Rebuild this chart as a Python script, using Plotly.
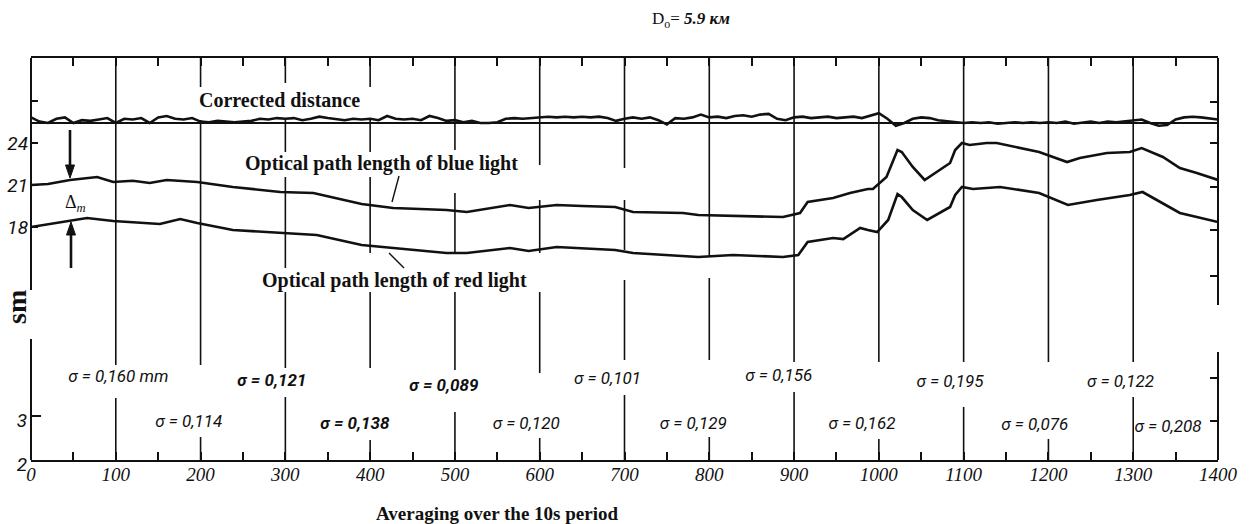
import plotly.graph_objects as go

# ---------------- data ----------------
x_tick_vals = list(range(0, 1401, 100))
x_tick_text = [str(v) for v in x_tick_vals]
x_minor_ticks = list(range(50, 1400, 100))
upper_tick_vals = [18, 21, 24]
upper_tick_text = ["18", "21", "24"]
upper_minor_ticks = [27]
upper_right_ticks = [14.5, 17.8, 20.85, 24, 26.95]
lower_tick_vals = [2, 3]
lower_tick_text = ["2", "3"]
lower_right_ticks = [2.89, 3.86]

# optical path length of blue light (sm)
blue_x = [0, 20, 46, 78, 97, 120, 140, 160, 196, 238, 294, 333, 390, 427, 459,
          490, 514, 565, 587, 620, 650, 689, 710, 769, 787, 848, 887, 907, 916, 946,
          966, 987, 993, 1009, 1016, 1022, 1027, 1040, 1054, 1072, 1084, 1090, 1098,
          1107, 1127, 1139, 1189, 1222, 1237, 1269, 1296, 1310, 1335, 1355, 1375, 1400]
blue_y = [21.0, 21.07, 21.36, 21.57, 21.21, 21.3, 21.14, 21.36, 21.21, 20.86, 20.5, 20.43, 19.64, 19.36, 19.29,
          19.21, 19.07, 19.57, 19.36, 19.57, 19.5, 19.43, 19.07, 19.0, 18.86, 18.79, 18.71, 19.0, 19.79, 20.07,
          20.43, 20.71, 20.71, 21.57, 22.6, 23.5, 23.36, 22.29, 21.36, 22.07, 22.57, 23.5, 24.0,
          23.86, 24.0, 24.0, 23.36, 22.64, 22.93, 23.29, 23.36, 23.64, 23.0, 22.21, 21.86, 21.36]

# optical path length of red light (sm)
red_x = [0, 46, 66, 97, 152, 176, 196, 238, 294, 337, 390, 427, 459, 490, 514,
         565, 587, 620, 689, 710, 787, 828, 887, 905, 916, 946, 958, 978, 987, 998,
         1011, 1022, 1027, 1040, 1057, 1072, 1084, 1090, 1098, 1111, 1143, 1189, 1223, 1257, 1296,
         1311, 1355, 1375, 1400]
red_y = [18.0, 18.43, 18.64, 18.43, 18.21, 18.57, 18.29, 17.79, 17.57, 17.43, 16.71, 16.5, 16.29, 16.14, 16.14,
         16.5, 16.29, 16.57, 16.36, 16.14, 15.86, 16.0, 15.86, 16.0, 16.93, 17.21, 17.14, 17.93, 17.79, 17.64,
         18.5, 20.36, 20.14, 19.21, 18.5, 19.0, 19.43, 20.29, 20.86, 20.71, 20.86, 20.43, 19.57, 19.93, 20.29,
         20.5, 19.0, 18.71, 18.36]

# corrected distance: baseline and deviation every 10 s-steps
corr_base = 25.43
corr_x = list(range(0, 1401, 10))
corr_dev = [
    0.4, 0.1, 0.0, 0.3, 0.4, 0.0, 0.2, 0.15, 0.25, 0.35,
    0.0, 0.3, 0.25, 0.35, 0.0, 0.4, 0.5, 0.3, 0.25, 0.35,
    0.1, 0.05, 0.15, 0.1, 0.05, 0.1, 0.15, 0.3, 0.25, 0.35,
    0.3, 0.35, 0.2, 0.3, 0.45, 0.35, 0.25, 0.2, 0.3, 0.25,
    0.3, 0.2, 0.5, 0.3, 0.25, 0.3, 0.2, 0.5, 0.35, 0.15,
    0.2, 0.05, 0.15, 0.0, 0.0, 0.05, 0.3, 0.35, 0.3, 0.35,
    0.4, 0.45, 0.4, 0.45, 0.4, 0.45, 0.4, 0.45, 0.35, 0.15,
    0.3, 0.4, 0.3, 0.4, 0.2, -0.1, 0.35, 0.3, 0.4, 0.6,
    0.4, 0.45, 0.35, 0.5, 0.55, 0.45, 0.6, 0.65, 0.3, 0.2,
    0.4, 0.45, 0.35, 0.4, 0.45, 0.35, 0.4, 0.45, 0.35, 0.5,
    0.7, 0.3, -0.2, 0.0, 0.3, 0.4, 0.35, 0.2, 0.15, 0.05,
    0.0, 0.05, 0.0, 0.05, -0.05, 0.0, 0.05, 0.0, 0.05, 0.0,
    0.05, 0.0, 0.1, -0.05, 0.05, 0.1, 0.0, 0.1, 0.05, 0.1,
    0.2, 0.25, 0.0, -0.2, -0.15, 0.25, 0.4, 0.45, 0.4, 0.35,
    0.25,
]
corr_y = [corr_base + d for d in corr_dev]

# standard deviations per interval
sigma_text = ["0,160 mm", "0,114", "0,121", "0,138", "0,089", "0,120", "0,101",
              "0,129", "0,156", "0,162", "0,195", "0,076", "0,122", "0,208"]
sigma_bold = [False, False, True, True, True, False, False,
              False, False, False, False, False, False, False]
sigma_x = [103, 186, 284, 382, 487, 584, 680, 781, 882, 980, 1084, 1184, 1285, 1341]
sigma_y = [3.86, 2.84, 3.77, 2.8, 3.66, 2.8, 3.82, 2.8, 3.89, 2.8, 3.75, 2.77, 3.75, 2.73]

grid_x = list(range(100, 1400, 100))

# ---------------- layout calibration (pixels) ----------------
W, H = 1250, 524
L, R, T, B = 31, 1218, 58, 460
UP_REF_VAL, UP_REF_PX, UP_PX_PER_UNIT = 24, 143, 14.0
LOW_PX_PER_UNIT = 44.0
upper_range = [UP_REF_VAL - (B - UP_REF_PX) / UP_PX_PER_UNIT,
               UP_REF_VAL + (UP_REF_PX - T) / UP_PX_PER_UNIT]
lower_range = [2, 2 + (B - T) / LOW_PX_PER_UNIT]
X_PER_PX = 1400 / (R - L)


def pyp(py):
    return (B - py) / (B - T)


def pxp(px):
    return (px - L) / (R - L)


def px2x(px):
    return (px - L) * X_PER_PX


def py2up(py):
    return UP_REF_VAL - (py - UP_REF_PX) / UP_PX_PER_UNIT


grid_gaps_px = {
    100: [(365, 398)],
    200: [(87, 120), (365, 437)],
    300: [(83, 119), (152, 177), (268, 292), (368, 397)],
    400: [(87, 119), (152, 177), (253, 292), (368, 440)],
    500: [(150, 193), (253, 292), (370, 412)],
    600: [(165, 200), (253, 292), (373, 438)],
    700: [(168, 200), (250, 280), (360, 395)],
    800: [(257, 278), (360, 437)],
    900: [(362, 392)],
    1000: [(362, 439)],
    1100: [(362, 407)],
    1200: [(362, 439)],
    1300: [(362, 397)],
}

INK = "#111111"
SERIF = "Liberation Serif, Times New Roman, serif"
HAND = "Liberation Sans Narrow, Roboto, Arial, sans-serif"

fig = go.Figure()

line_style = dict(color=INK, width=2.6)
fig.add_trace(go.Scatter(x=[0, 1400], y=[corr_base, corr_base], mode="lines",
                         line=dict(color=INK, width=1.8), hoverinfo="skip"))
fig.add_trace(go.Scatter(x=corr_x, y=corr_y, mode="lines", line=line_style, hoverinfo="skip"))
fig.add_trace(go.Scatter(x=blue_x, y=blue_y, mode="lines", line=line_style, hoverinfo="skip"))
fig.add_trace(go.Scatter(x=red_x, y=red_y, mode="lines", line=line_style, hoverinfo="skip"))

sig_labels = [("<b>σ = %s</b>" % t) if b else ("σ = %s" % t) for t, b in zip(sigma_text, sigma_bold)]
fig.add_trace(go.Scatter(x=sigma_x, y=sigma_y, yaxis="y3", mode="text", text=sig_labels,
                         textposition="middle center",
                         textfont=dict(family=HAND, size=17, color=INK, style="italic"),
                         hoverinfo="skip"))
# right-hand tick scales (upper and lower parts of the broken axis)
fig.add_trace(go.Scatter(x=[1400] * len(upper_right_ticks), y=upper_right_ticks, yaxis="y2",
                         mode="markers", marker=dict(size=1, opacity=0), hoverinfo="skip"))
fig.add_trace(go.Scatter(x=[1400] * len(lower_right_ticks), y=lower_right_ticks, yaxis="y4",
                         mode="markers", marker=dict(size=1, opacity=0), hoverinfo="skip"))

shapes = []
for gx in grid_x:
    gaps = grid_gaps_px.get(gx, [])
    start = T
    for a, b in gaps + [(B, B)]:
        if a > start:
            shapes.append(dict(type="line", xref="x", yref="paper", x0=gx, x1=gx,
                               y0=pyp(start), y1=pyp(a), line=dict(color=INK, width=1.6)))
        start = b
# left / right frame lines with gaps
for (xp, segs) in [(0, [(T, 290), (339, B)]), (1, [(T, 305), (352, B)])]:
    for a, b in segs:
        shapes.append(dict(type="line", xref="paper", yref="paper", x0=xp, x1=xp,
                           y0=pyp(a), y1=pyp(b), line=dict(color=INK, width=2)))
# leader lines of the curve labels
shapes.append(dict(type="line", xref="x", yref="y", x0=px2x(399), x1=px2x(392),
                   y0=py2up(176), y1=py2up(202), line=dict(color=INK, width=1.4)))
shapes.append(dict(type="line", xref="x", yref="y", x0=px2x(389), x1=px2x(404),
                   y0=py2up(253), y1=py2up(268), line=dict(color=INK, width=1.4)))


# delta_m arrows (shaft + filled head)
def arrow(px, tail_py, base_py, tip_py, half_w=4.5):
    out = [dict(type="line", xref="x", yref="y", x0=px2x(px), x1=px2x(px),
                y0=py2up(tail_py), y1=py2up(base_py), line=dict(color=INK, width=2.6))]
    xl, xr, xc = px2x(px - half_w), px2x(px + half_w), px2x(px)
    path = "M %.3f,%.4f L %.3f,%.4f L %.3f,%.4f Z" % (
        xl, py2up(base_py), xr, py2up(base_py), xc, py2up(tip_py))
    out.append(dict(type="path", xref="x", yref="y", path=path, fillcolor=INK,
                    line=dict(color=INK, width=1)))
    return out


shapes += arrow(70, 130, 165, 178)
shapes += arrow(71, 268, 235, 222)

annotations = [
    dict(text="<b>Corrected distance</b>", x=px2x(279), y=py2up(100), xref="x", yref="y",
         xanchor="center", yanchor="middle",
         showarrow=False, font=dict(family=SERIF, size=20, color=INK)),
    dict(text="<b>Optical path length of blue light</b>", x=px2x(381), y=py2up(163),
         xref="x", yref="y", xanchor="center", yanchor="middle",
         showarrow=False, font=dict(family=SERIF, size=20, color=INK)),
    dict(text="<b>Optical path length of red light</b>", x=px2x(394), y=py2up(280),
         xref="x", yref="y", xanchor="center", yanchor="middle",
         showarrow=False, font=dict(family=SERIF, size=20, color=INK)),
    dict(text="Δ<sub><i>m</i></sub>", x=px2x(75), y=py2up(203), xref="x", yref="y",
         xanchor="center", yanchor="middle",
         showarrow=False, font=dict(family=SERIF, size=18, color=INK)),
    dict(text="D<sub>o</sub>= <b><i>5.9 км</i></b>", x=pxp(691), y=pyp(20), xref="paper",
         yref="paper", xanchor="center", yanchor="middle",
         showarrow=False, font=dict(family=SERIF, size=17, color=INK)),
    dict(text="<b>Averaging over the 10s period</b>", x=pxp(497), y=pyp(513), xref="paper",
         yref="paper", xanchor="center", yanchor="middle",
         showarrow=False, font=dict(family=SERIF, size=19, color=INK)),
    dict(text="<b>sm</b>", x=pxp(16), y=pyp(307), xref="paper", yref="paper",
         xanchor="center", yanchor="middle",
         textangle=-90, showarrow=False, font=dict(family=SERIF, size=28, color=INK)),
]

common_y = dict(showgrid=False, zeroline=False, showline=False, ticks="inside",
                tickcolor=INK, tickwidth=1.6, automargin=False,
                tickfont=dict(family=HAND, size=19, color=INK, style="italic"))

fig.update_layout(
    width=W, height=H,
    margin=dict(l=L, r=W - R, t=T, b=H - B, pad=0, autoexpand=False),
    plot_bgcolor="white", paper_bgcolor="white",
    showlegend=False, hovermode=False,
    xaxis=dict(range=[0, 1400], tickvals=x_tick_vals, ticktext=x_tick_text,
               ticks="inside", ticklen=8, tickwidth=1.6, tickcolor=INK,
               minor=dict(tickvals=x_minor_ticks, ticks="inside", ticklen=8,
                          tickwidth=1.6, tickcolor=INK),
               showline=True, linecolor=INK, linewidth=2, mirror="ticks",
               showgrid=False, zeroline=False, ticklabelstandoff=-4, automargin=False,
               tickfont=dict(family=SERIF, size=19, color=INK, style="italic")),
    yaxis=dict(range=upper_range, tickvals=upper_tick_vals, ticktext=upper_tick_text,
               ticklen=7, ticklabelstandoff=2,
               minor=dict(tickvals=upper_minor_ticks, ticks="inside", ticklen=7,
                          tickwidth=1.6, tickcolor=INK),
               **common_y),
    yaxis2=dict(range=upper_range, overlaying="y", side="right", tickvals=upper_right_ticks,
                ticklen=8, showticklabels=False, **common_y),
    yaxis3=dict(range=lower_range, overlaying="y", side="left", tickvals=lower_tick_vals,
                ticktext=lower_tick_text, ticklen=10, ticklabelstandoff=3, ticklabelshift=4,
                **common_y),
    yaxis4=dict(range=lower_range, overlaying="y", side="right", tickvals=lower_right_ticks,
                ticklen=8, showticklabels=False, **common_y),
    shapes=shapes,
    annotations=annotations,
)

fig.write_html("out.html", config={"displayModeBar": False},
               post_script="document.body.style.margin='0';")
